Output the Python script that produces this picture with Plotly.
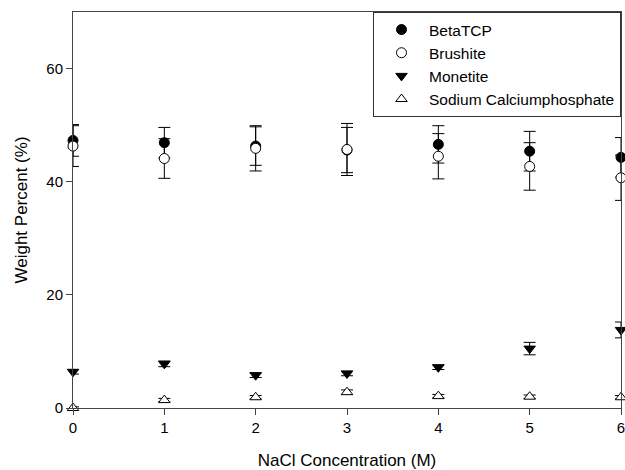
import plotly.graph_objects as go

nacl = [0, 1, 2, 3, 4, 5, 6]

beta_tcp = [47.3, 46.9, 46.3, 45.6, 46.6, 45.4, 44.3]
beta_tcp_err = [2.8, 2.7, 3.4, 4.0, 3.3, 3.5, 3.5]

brushite = [46.3, 44.1, 45.9, 45.7, 44.5, 42.7, 40.7]
brushite_err = [3.6, 3.5, 4.0, 4.6, 4.0, 4.2, 4.0]

monetite = [6.4, 7.8, 5.8, 6.1, 7.2, 10.5, 13.8]
monetite_err = [0.4, 0.5, 0.4, 0.4, 0.4, 1.1, 1.4]

sodium = [0.0, 1.4, 1.9, 2.8, 2.1, 2.0, 1.9]
sodium_err = [0.2, 0.3, 0.3, 0.4, 0.3, 0.3, 0.3]

series = [
    ("BetaTCP", beta_tcp, beta_tcp_err, "circle", "black"),
    ("Brushite", brushite, brushite_err, "circle", "white"),
    ("Monetite", monetite, monetite_err, "triangle-down", "black"),
    ("Sodium Calciumphosphate", sodium, sodium_err, "triangle-up", "white"),
]

fig = go.Figure()
for name, vals, errs, sym, fill in series:
    fig.add_trace(go.Scatter(
        x=nacl, y=vals, name=name, mode="markers",
        marker=dict(symbol=sym, size=10, color=fill,
                    line=dict(color="black", width=1)),
        error_y=dict(type="data", array=errs, color="black",
                     thickness=1, width=6),
        cliponaxis=False,
    ))

ff = "Liberation Sans, Arial, sans-serif"

fig.update_layout(
    width=625, height=470,
    margin=dict(l=73, r=0, t=12, b=62),
    plot_bgcolor="white", paper_bgcolor="white",
    font=dict(family=ff, size=15, color="black"),
    showlegend=True,
    legend=dict(x=1, y=1, xanchor="right", yanchor="top",
                bordercolor="#333333", borderwidth=1, bgcolor="white",
                font=dict(family=ff, size=15.5, color="black"),
                itemwidth=45, tracegroupgap=0),
)
fig.update_xaxes(
    range=[0, 6], tickvals=nacl, ticks="outside", ticklen=6, tickcolor="#444444",
    tickfont=dict(size=15), ticklabeloverflow="allow",
    showline=True, linecolor="#444444", linewidth=1, mirror=True,
    showgrid=False, zeroline=False,
    title=dict(text="NaCl Concentration (M)", font=dict(size=17), standoff=21),
)
fig.update_yaxes(
    range=[0, 70], tickvals=[0, 20, 40, 60], ticks="outside", ticklen=6, tickcolor="#444444",
    tickfont=dict(size=15),
    showline=True, linecolor="#444444", linewidth=1, mirror=True,
    showgrid=False, zeroline=False,
    title=dict(text="Weight Percent (%)", font=dict(size=17), standoff=14),
)

fig.write_html("out.html")
